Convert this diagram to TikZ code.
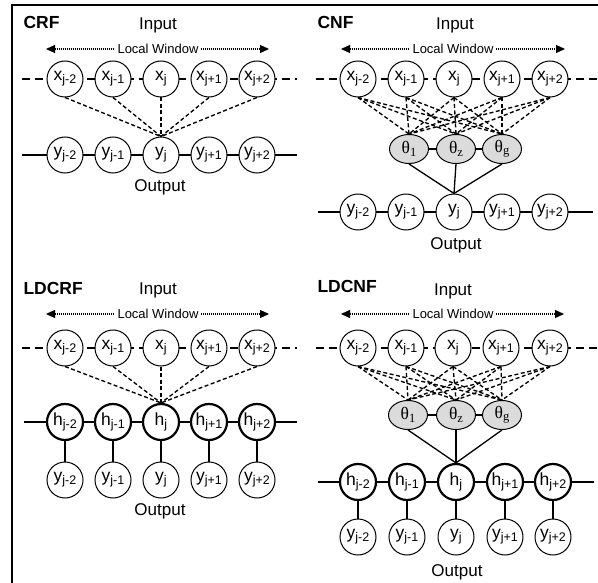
\documentclass[tikz,border=0pt]{standalone}
\usepackage{fontspec}
\setmainfont{Liberation Sans}
\newfontfamily\thetafont{Liberation Serif}
\usetikzlibrary{arrows.meta,shapes.geometric}
\newcommand\subt[2]{#1\raisebox{-0.35ex}{\fontsize{12.5}{13}\selectfont #2}}
\newcommand\subth[2]{#1\raisebox{-0.3ex}{\fontsize{12.5}{13}\selectfont #2}}
\tikzset{
 nd/.style={circle,draw,fill=white,minimum size=36pt,inner sep=0pt,line width=1pt,font=\fontsize{17.5}{18}\selectfont},
 hnd/.style={nd,line width=2.2pt},
 thn/.style={ellipse,draw,fill=black!14,minimum width=39pt,minimum height=29pt,inner sep=0pt,line width=1pt,font=\fontsize{17.5}{18}\selectfont\thetafont},
 dl/.style={dash pattern=on 4pt off 2.5pt, line width=1.35pt},
 rowdash/.style={line width=1.4pt,dash pattern=on 8pt off 5pt},
 rowline/.style={line width=1.4pt},
 sl/.style={line width=1.3pt},
 lwarrow/.style={dash pattern=on 1pt off 1pt, line width=1.1pt, {Triangle[length=9pt,width=8pt]}-{Triangle[length=9pt,width=8pt]}},
 lwt/.style={fill=white,inner sep=2.5pt,font=\fontsize{13}{13}\selectfont},
 ttl/.style={font=\fontsize{17.5}{18}\selectfont\bfseries,anchor=west},
 lab/.style={font=\fontsize{17}{17}\selectfont},
}
\begin{document}
\begin{tikzpicture}[x=1pt,y=-1pt]
\useasboundingbox (0,0) rectangle (598,583);
% frame
\coordinate (fa) at (12,583); \coordinate (fb) at (12,5); \coordinate (fc) at (598,5);
\draw[line width=2.2pt] (fa) -- (fb) -- (fc);

% ================= CRF =================
\node[ttl] (crft) at (20,22) {CRF};
\node[lab] (crfin) at (158,25) {Input};
\coordinate (crfl) at (46,49); \coordinate (crfr) at (269,49);
\draw[lwarrow] (crfl) -- (crfr);
\node[lwt] (crflw) at (158,49) {Local Window};
\coordinate (crfxa) at (22,79); \coordinate (crfxb) at (297,79);
\draw[rowdash] (crfxa) -- (crfxb);
\coordinate (crfya) at (22,155); \coordinate (crfyb) at (297,155);
\draw[rowline] (crfya) -- (crfyb);
\foreach \i/\s/\px in {1/j-2/65,2/j-1/113,3/j/161,4/j+1/209,5/j+2/257}{
  \node[nd] (crfx\i) at (\px,79) {\subt{x}{\s}};
  \node[nd] (crfy\i) at (\px,155) {\subt{y}{\s}};
}
\foreach \i in {1,...,5} \draw[dl] (crfx\i.south) -- (crfy3.north);
\node[lab] (crfout) at (160,187) {Output};

% ================= CNF =================
\node[ttl] (cnft) at (314,22) {CNF};
\node[lab] (cnfin) at (455,25) {Input};
\coordinate (cnfl) at (341,49); \coordinate (cnfr) at (565,49);
\draw[lwarrow] (cnfl) -- (cnfr);
\node[lwt] (cnflw) at (453,49) {Local Window};
\coordinate (cnfxa) at (316,79); \coordinate (cnfxb) at (598,79);
\draw[rowdash] (cnfxa) -- (cnfxb);
\coordinate (cnfta) at (409,149); \coordinate (cnftb) at (502,149);
\draw[rowline] (cnfta) -- (cnftb);
\coordinate (cnfya) at (318,212); \coordinate (cnfyb) at (593,212);
\draw[rowline] (cnfya) -- (cnfyb);
\foreach \i/\s/\px in {1/j-2/358,2/j-1/406,3/j/454,4/j+1/502,5/j+2/550}{
  \node[nd] (cnfx\i) at (\px,79) {\subt{x}{\s}};
  \node[nd] (cnfy\i) at (\px,212) {\subt{y}{\s}};
}
\foreach \k/\s/\px in {1/1/409,2/z/456,3/g/502}{
  \node[thn] (cnft\k) at (\px,149) {\subth{θ}{\s}};
}
\foreach \i in {1,...,5} \foreach \k in {1,2,3} \draw[dl] (cnfx\i.south) -- (cnft\k.north);
\foreach \k in {1,2,3} \draw[sl] (cnft\k.south) -- (cnfy3.north);
\node[lab] (cnfout) at (456,245) {Output};

% ================= LDCRF =================
\node[ttl] (ldcrft) at (20,288) {LDCRF};
\node[lab] (ldcrfin) at (158,290) {Input};
\coordinate (ldcrfl) at (46,314); \coordinate (ldcrfr) at (269,314);
\draw[lwarrow] (ldcrfl) -- (ldcrfr);
\node[lwt] (ldcrflw) at (158,314) {Local Window};
\coordinate (ldcrfxa) at (22,348); \coordinate (ldcrfxb) at (297,348);
\draw[rowdash] (ldcrfxa) -- (ldcrfxb);
\coordinate (ldcrfha) at (24,422); \coordinate (ldcrfhb) at (297,422);
\draw[rowline] (ldcrfha) -- (ldcrfhb);
\foreach \i/\s/\px in {1/j-2/65,2/j-1/113,3/j/161,4/j+1/209,5/j+2/257}{
  \node[nd] (ldcrfx\i) at (\px,348) {\subt{x}{\s}};
  \node[hnd] (ldcrfh\i) at (\px,422) {\subt{h}{\s}};
  \node[nd] (ldcrfy\i) at (\px,480) {\subt{y}{\s}};
  \draw[sl] (ldcrfh\i) -- (ldcrfy\i);
}
\foreach \i in {1,...,5} \draw[dl] (ldcrfx\i.south) -- (ldcrfh3.north);
\node[lab] (ldcrfout) at (160,511) {Output};

% ================= LDCNF =================
\node[ttl] (ldcnft) at (314,286) {LDCNF};
\node[lab] (ldcnfin) at (453,291) {Input};
\coordinate (ldcnfl) at (341,314); \coordinate (ldcnfr) at (564,314);
\draw[lwarrow] (ldcnfl) -- (ldcnfr);
\node[lwt] (ldcnflw) at (453,314) {Local Window};
\coordinate (ldcnfxa) at (316,348); \coordinate (ldcnfxb) at (598,348);
\draw[rowdash] (ldcnfxa) -- (ldcnfxb);
\coordinate (ldcnfta) at (409,415); \coordinate (ldcnftb) at (502,415);
\draw[rowline] (ldcnfta) -- (ldcnftb);
\coordinate (ldcnfha) at (318,482); \coordinate (ldcnfhb) at (594,482);
\draw[rowline] (ldcnfha) -- (ldcnfhb);
\foreach \i/\s/\px in {1/j-2/358,2/j-1/407,3/j/456,4/j+1/505,5/j+2/553}{
  \node[hnd] (ldcnfh\i) at (\px,482) {\subt{h}{\s}};
  \node[nd] (ldcnfy\i) at (\px,537) {\subt{y}{\s}};
  \draw[sl] (ldcnfh\i) -- (ldcnfy\i);
}
\foreach \i/\s/\px in {1/j-2/358,2/j-1/406,3/j/453,4/j+1/501,5/j+2/550}{
  \node[nd] (ldcnfx\i) at (\px,348) {\subt{x}{\s}};
}
\foreach \k/\s/\px in {1/1/408,2/z/456,3/g/502}{
  \node[thn] (ldcnft\k) at (\px,415) {\subth{θ}{\s}};
}
\foreach \i in {1,...,5} \foreach \k in {1,2,3} \draw[dl] (ldcnfx\i.south) -- (ldcnft\k.north);
\foreach \k in {1,2,3} \draw[sl] (ldcnft\k.south) -- (ldcnfh3.north);
\node[lab] (ldcnfout) at (457,572) {Output};
\end{tikzpicture}
\end{document}
